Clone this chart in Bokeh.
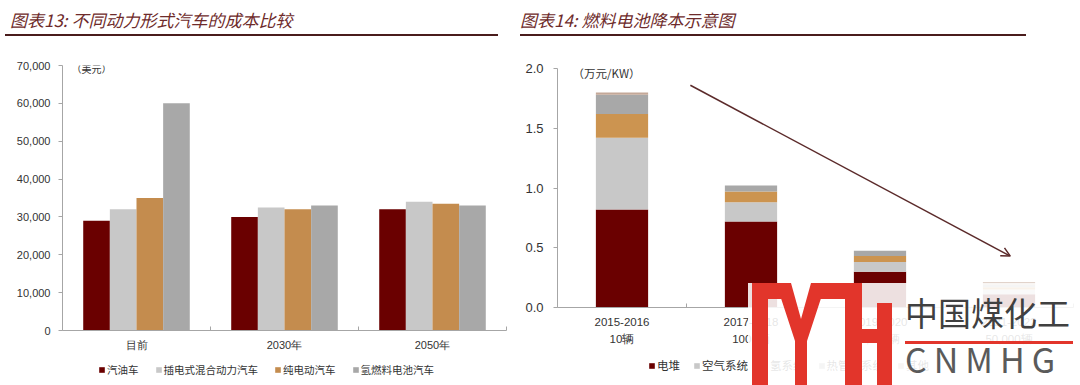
import numpy as np
from bokeh.plotting import figure
from bokeh.models import (ColumnDataSource, FixedTicker, Legend, LegendItem, Label,
                          Arrow, OpenHead, Div, Range1d, NumeralTickFormatter)
from bokeh.layouts import row, column
from bokeh.embed import file_html
from bokeh.resources import INLINE

# ---------------- data: left chart ----------------
left_categories = ["目前", "2030年", "2050年"]
left_series = ["汽油车", "插电式混合动力汽车", "纯电动汽车", "氢燃料电池汽车"]
gasoline_cost = [29000, 30000, 32000]
phev_cost = [32000, 32500, 34000]
bev_cost = [35000, 32000, 33500]
fcev_cost = [60000, 33000, 33000]
left_yticks = [0, 10000, 20000, 30000, 40000, 50000, 60000, 70000]
left_unit = "（美元）"
left_title = "图表13: 不同动力形式汽车的成本比较"

# ---------------- data: right chart ----------------
right_categories = ["2015-2016\n10辆", "2017-2018\n1000辆", "2019-2020\n5,000辆", "2021-2022\n50,000辆"]
right_series = ["电堆", "空气系统", "氢系统", "热管理系统", "其他"]
stack_cost = [0.82, 0.72, 0.30, 0.11]
air_cost = [0.60, 0.16, 0.08, 0.04]
hydrogen_cost = [0.20, 0.09, 0.05, 0.02]
thermal_cost = [0.16, 0.05, 0.045, 0.02]
other_cost = [0.02, 0.0, 0.0, 0.02]
right_yticks = [0, 0.5, 1.0, 1.5, 2.0]
right_unit = "（万元/KW）"
right_title = "图表14: 燃料电池降本示意图"
watermark_cn = "中国煤化工"
watermark_en = "CNMHG"

# ---------------- styles ----------------
LEFT_COLORS = ["#6a0000", "#c8c8c8", "#c48c4e", "#a8a8a8"]
RIGHT_COLORS = ["#6a0000", "#c8c8c8", "#cc9450", "#a8a8a8", "#c4a898"]
AXIS_COLOR = "#a6a6a6"
TEXT_COLOR = "#333333"
NUM_FONT = "Liberation Sans"
CJK_FONT = "Noto Sans CJK SC"
TITLE_COLOR = "#6e2b2b"
RULE_COLOR = "#4a1c1c"
LOGO_RED = "#e2352b"


def title_div(text, width, margin_left, pad_left, extra_html=""):
    return Div(text=text + extra_html, width=width, height=36, margin=(0, 0, 0, margin_left),
               styles={"font-family": CJK_FONT, "font-style": "italic", "font-size": "17px",
                       "color": TITLE_COLOR, "line-height": "24px",
                       "border-bottom": f"2px solid {RULE_COLOR}",
                       "padding-top": "8px", "padding-left": f"{pad_left}px",
                       "box-sizing": "border-box",
                       "white-space": "nowrap", "overflow": "visible", "position": "relative"})


def style_axes(p, label_size):
    p.grid.visible = False
    p.outline_line_color = None
    for ax in (p.xaxis[0], p.yaxis[0]):
        ax.axis_line_color = AXIS_COLOR
        ax.major_tick_line_color = AXIS_COLOR
        ax.minor_tick_line_color = AXIS_COLOR
        ax.major_label_text_color = TEXT_COLOR
        ax.major_label_text_font = NUM_FONT
    p.yaxis.major_tick_out = 4
    p.yaxis.major_tick_in = 0
    p.yaxis.minor_tick_line_color = None
    p.yaxis.major_label_text_font_size = label_size
    p.xaxis.major_tick_in = 0
    p.xaxis.major_tick_out = 0
    p.xaxis.minor_tick_in = 4
    p.xaxis.minor_tick_out = 0


def legend_figure(width, height, names, colors, loc, font_size, spacing):
    """A strip below a chart that only carries that chart's legend."""
    lf = figure(width=width, height=height, x_range=Range1d(0, 1), y_range=Range1d(0, 1),
                output_backend="svg", toolbar_location=None, x_axis_type=None, y_axis_type=None,
                min_border=0, outline_line_color=None)
    lf.grid.visible = False
    its = []
    for n, c in zip(names, colors):
        # zero-height placeholder bar: only its colour is used, by the legend swatch
        r = lf.vbar(x=[0], top=[0], bottom=0, width=0, fill_color=c, line_color=None)
        its.append(LegendItem(label=n, renderers=[r]))
    lf.add_layout(Legend(items=its, orientation="horizontal", location=loc,
                         label_text_font=CJK_FONT, label_text_font_size=font_size,
                         label_text_color=TEXT_COLOR, glyph_width=7, glyph_height=7,
                         label_standoff=2, spacing=spacing, padding=0, margin=0,
                         border_line_color=None, background_fill_alpha=0))
    return lf


# ================= LEFT FIGURE =================
nL = len(left_categories)
p1 = figure(width=512, height=318, x_range=Range1d(0, nL), y_range=Range1d(0, left_yticks[-1]),
            output_backend="svg", toolbar_location=None,
            min_border_left=62, min_border_right=6, min_border_top=29, min_border_bottom=24)
style_axes(p1, "11px")
bar_w = 0.18
centers = np.arange(nL) + 0.5
for i, (vals, col) in enumerate(zip([gasoline_cost, phev_cost, bev_cost, fcev_cost], LEFT_COLORS)):
    src = ColumnDataSource(dict(x=centers + (i - 1.5) * bar_w, top=vals))
    p1.vbar(x="x", top="top", bottom=0, width=bar_w, source=src, fill_color=col, line_color=None)

p1.yaxis.ticker = FixedTicker(ticks=left_yticks)
p1.yaxis.formatter = NumeralTickFormatter(format="0,0")
p1.yaxis.major_label_standoff = 8
p1.xaxis.ticker = FixedTicker(ticks=list(centers), minor_ticks=list(range(nL + 1)))
p1.xaxis.major_label_overrides = {float(c): t for c, t in zip(centers, left_categories)}
p1.xaxis.major_label_text_font_size = "11px"
p1.xaxis.major_label_standoff = 8
p1.add_layout(Label(x=0.06, y=69200, text=left_unit, text_baseline="middle",
                    text_font=CJK_FONT, text_font_size="10px", text_color=TEXT_COLOR))

leg1 = legend_figure(512, 31, left_series, LEFT_COLORS, (36, 8), "10.5px", 16)

# ================= RIGHT FIGURE =================
nR = len(right_categories)
p2 = figure(width=566, height=316, x_range=Range1d(0, nR), y_range=Range1d(0, right_yticks[-1]),
            output_backend="svg", toolbar_location=None,
            min_border_left=45, min_border_right=5, min_border_top=32, min_border_bottom=45)
style_axes(p2, "13px")
keys = ["stack", "air", "hydrogen", "thermal", "other"]
centersR = np.arange(nR) + 0.5
src2 = ColumnDataSource(dict(x=centersR, stack=stack_cost, air=air_cost, hydrogen=hydrogen_cost,
                             thermal=thermal_cost, other=other_cost))
p2.vbar_stack(keys, x="x", width=0.405, source=src2, fill_color=RIGHT_COLORS, line_color=None)

p2.yaxis.ticker = FixedTicker(ticks=right_yticks)
p2.yaxis.formatter = NumeralTickFormatter(format="0.0")
p2.yaxis.major_label_standoff = 10
p2.xaxis.ticker = FixedTicker(ticks=list(centersR), minor_ticks=list(range(nR + 1)))
p2.xaxis.major_label_overrides = {float(c): t for c, t in zip(centersR, right_categories)}
p2.xaxis.major_label_text_font_size = "11.5px"
p2.xaxis.major_label_text_line_height = 1.45
p2.xaxis.major_label_standoff = 8
p2.add_layout(Label(x=0.117, y=1.96, text=right_unit, text_baseline="middle",
                    text_font=CJK_FONT, text_font_size="11.5px", text_color=TEXT_COLOR))

# downward trend arrow (from above first bar towards the last bar)
p2.add_layout(Arrow(end=OpenHead(size=9, line_color="#5b2a2a", line_width=1.5),
                    x_start=1.03, y_start=1.86, x_end=3.51, y_end=0.43,
                    line_color="#5b2a2a", line_width=1.5))

leg2 = legend_figure(566, 33, right_series, RIGHT_COLORS, (91, 12), "11.5px", 13)

# ---- watermark overlay seen in the reference picture (page px 748..1078, 283..385) ----
wm_svg = f"""
<svg width="330" height="102" style="position:absolute; left:228px; top:283px; z-index:10; font-style:normal">
  <rect x="0" y="0" width="330" height="102" fill="white" fill-opacity="0.88"/>
  <g fill="{LOGO_RED}">
    <rect x="4" y="0" width="16" height="102"/>
    <rect x="4" y="0" width="38" height="16"/>
    <polygon points="28,0 43,0 53,36 63,0 78,0 59,58 59,102 47,102 47,58"/>
    <rect x="64" y="0" width="50" height="16"/>
    <rect x="97" y="0" width="17" height="102"/>
    <rect x="97" y="46" width="47" height="14"/>
    <rect x="129" y="20" width="15" height="82"/>
  </g>
  <text x="157" y="43" font-family="{CJK_FONT}" font-size="33" fill="#404040">{watermark_cn}</text>
  <rect x="157" y="58" width="168" height="3" fill="{LOGO_RED}"/>
  <text x="157" y="90" font-family="Noto Sans" font-size="34" letter-spacing="7" fill="#5a5a5a">{watermark_en}</text>
</svg>
"""

layout = row(column(title_div(left_title, 493, 5, 5), p1, leg1, spacing=0),
             column(title_div(right_title, 506, 8, 0, wm_svg), p2, leg2, spacing=0),
             spacing=0)

open("out.html", "w").write(file_html(layout, INLINE))
